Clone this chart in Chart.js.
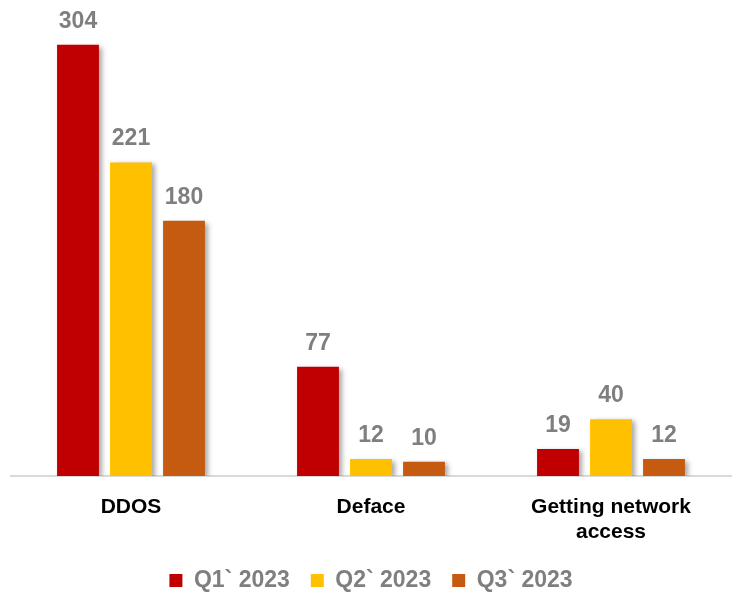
<!DOCTYPE html>
<html lang="en">
<head>
    <meta charset="UTF-8">
    <title>Attacks by type, 2023</title>
    <style>
        html, body {
            margin: 0;
            padding: 0;
            background: #fff;
        }
        #wrap {
            width: 736px;
            height: 593px;
        }
    </style>
</head>
<body>
    <div id="wrap">
        <canvas id="attackChart"></canvas>
    </div>

    <script src="https://cdn.jsdelivr.net/npm/chart.js"></script>
    <script>
var categories = [["DDOS"], ["Deface"], ["Getting network", "access"]];
var seriesNames = ["Q1` 2023", "Q2` 2023", "Q3` 2023"];
var q1Values = [304, 77, 19];
var q2Values = [221, 12, 40];
var q3Values = [180, 10, 12];
var seriesColors = ["#C00000", "#FFC000", "#C55A11"];

// soft drop shadow under the bars
var barShadow = {
    id: "barShadow",
    beforeDatasetsDraw: function(chart) {
        var ctx = chart.ctx;
        ctx.save();
        ctx.shadowColor = "rgba(0,0,0,0.35)";
        ctx.shadowBlur = 5;
        ctx.shadowOffsetX = 3;
        ctx.shadowOffsetY = 2;
    },
    afterDatasetsDraw: function(chart) {
        chart.ctx.restore();
    }
};

// value printed above each bar
var valueLabels = {
    id: "valueLabels",
    afterDatasetsDraw: function(chart) {
        var ctx = chart.ctx;
        ctx.save();
        ctx.font = "bold 23px 'Liberation Sans', Arial, sans-serif";
        ctx.fillStyle = "#7F7F7F";
        ctx.textAlign = "center";
        ctx.textBaseline = "alphabetic";
        chart.data.datasets.forEach(function(ds, i) {
            var meta = chart.getDatasetMeta(i);
            meta.data.forEach(function(bar, j) {
                ctx.fillText(ds.data[j], bar.x, bar.y - 17);
            });
        });
        ctx.restore();
    }
};

// category names under the axis (two lines for the long one)
var categoryLabels = {
    id: "categoryLabels",
    afterDraw: function(chart) {
        var ctx = chart.ctx;
        var xs = chart.scales.x;
        ctx.save();
        ctx.font = "bold 21px 'Liberation Sans', Arial, sans-serif";
        ctx.fillStyle = "#000";
        ctx.textAlign = "center";
        ctx.textBaseline = "alphabetic";
        chart.data.labels.forEach(function(lines, i) {
            var x = xs.getPixelForTick(i);
            lines.forEach(function(line, k) {
                ctx.fillText(line, x, xs.top + 37 + k * 25);
            });
        });
        ctx.restore();
    }
};

// keep the legend strip short so the items sit low on the page
var legendHeight = {
    id: "legendHeight",
    beforeLayout: function(chart) {
        var legend = chart.legend;
        if (legend && !legend._shortFit) {
            var fit = legend.fit;
            legend.fit = function() {
                fit.call(this);
                this.height = 45;
            };
            legend._shortFit = true;
        }
    }
};

var ctx = document.getElementById("attackChart").getContext("2d");
new Chart(ctx, {
    type: "bar",
    data: {
        labels: categories,
        datasets: [q1Values, q2Values, q3Values].map(function(vals, i) {
            return {
                label: seriesNames[i],
                data: vals,
                backgroundColor: seriesColors[i],
                borderWidth: 0,
                barPercentage: 0.79,
                categoryPercentage: 0.6625
            };
        })
    },
    options: {
        responsive: true,
        maintainAspectRatio: false,
        animation: false,
        layout: {
            padding: { left: 11, right: 5, top: 22, bottom: 0 }
        },
        scales: {
            x: {
                grid: { display: false, drawTicks: false },
                border: { color: "#D9D9D9", width: 2 },
                ticks: { display: false },
                afterFit: function(axis) {
                    axis.height = 72;
                }
            },
            y: {
                display: false,
                min: 0,
                max: 320
            }
        },
        plugins: {
            legend: {
                position: "bottom",
                labels: {
                    color: "#7F7F7F",
                    boxWidth: 13,
                    boxHeight: 13,
                    padding: 21,
                    font: { family: "'Liberation Sans', Arial, sans-serif", size: 23, weight: "bold" }
                }
            },
            tooltip: { enabled: false }
        }
    },
    plugins: [barShadow, valueLabels, categoryLabels, legendHeight]
});
    </script>
</body>
</html>
